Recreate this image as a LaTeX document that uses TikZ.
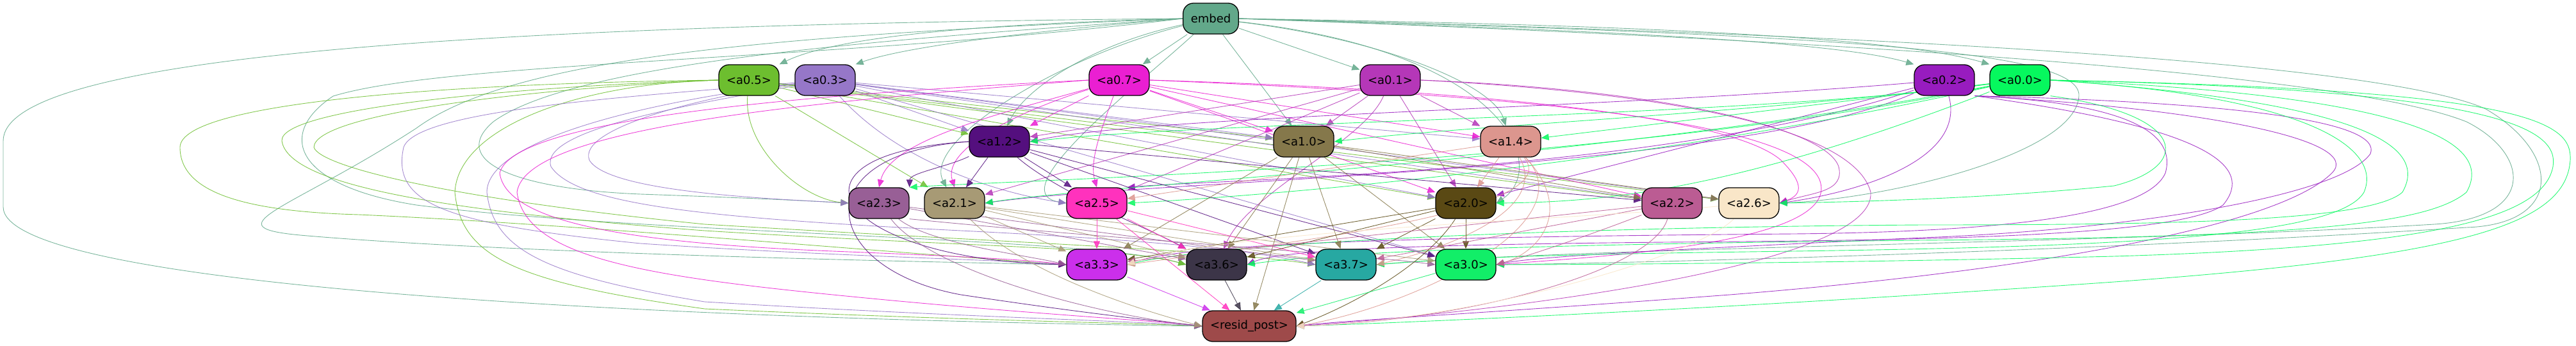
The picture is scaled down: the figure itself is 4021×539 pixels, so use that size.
\documentclass[tikz,border=0pt]{standalone}
\usepackage{fontspec}
\setmainfont{DejaVu Sans}
\usetikzlibrary{arrows.meta}
\pgfdeclarelayer{edges}
\pgfsetlayers{edges,main}
\definecolor{cE}{HTML}{62A88A}
\definecolor{c05}{HTML}{6DBE2F}
\definecolor{c03}{HTML}{9677C8}
\definecolor{c07}{HTML}{EA1FD2}
\definecolor{c01}{HTML}{B537B8}
\definecolor{c02}{HTML}{981CBF}
\definecolor{c00}{HTML}{06F85E}
\definecolor{c12}{HTML}{540F7E}
\definecolor{c10}{HTML}{85784B}
\definecolor{c14}{HTML}{DC968E}
\definecolor{c23}{HTML}{985F96}
\definecolor{c21}{HTML}{A79A75}
\definecolor{c25}{HTML}{FF32BD}
\definecolor{c20}{HTML}{5A4914}
\definecolor{c22}{HTML}{BB5C93}
\definecolor{c26}{HTML}{F9E6C8}
\definecolor{c33}{HTML}{CB2FEB}
\definecolor{c36}{HTML}{3C3548}
\definecolor{c37}{HTML}{27A8A2}
\definecolor{c30}{HTML}{12EE68}
\definecolor{crp}{HTML}{9E4A4A}
\tikzset{
  nd/.style={draw=black, line width=1.3pt, rounded corners=16pt, minimum height=48pt,
    minimum width=94pt, inner xsep=12pt, font=\fontsize{18}{20}\selectfont, text=black},
  ed/.style={draw=#1, line width=0.9pt, opacity=0.85, -{Triangle[length=12pt,width=10pt]}}
}
\begin{document}
\begin{tikzpicture}[x=1pt,y=-1pt]
\useasboundingbox (0,0) rectangle (4021,539);
% nodes
\node[nd, fill=cE, minimum width=0pt] (E) at (1890,29) {embed};
\node[nd, fill=c05] (n05) at (1169,125) {<a0.5>};
\node[nd, fill=c03] (n03) at (1288,125) {<a0.3>};
\node[nd, fill=c07] (n07) at (1747,125) {<a0.7>};
\node[nd, fill=c01] (n01) at (2170,125) {<a0.1>};
\node[nd, fill=c02] (n02) at (3035,125) {<a0.2>};
\node[nd, fill=c00] (n00) at (3153,125) {<a0.0>};
\node[nd, fill=c12] (n12) at (1560,221) {<a1.2>};
\node[nd, fill=c10] (n10) at (2035,221) {<a1.0>};
\node[nd, fill=c14] (n14) at (2358,221) {<a1.4>};
\node[nd, fill=c23] (n23) at (1372,317) {<a2.3>};
\node[nd, fill=c21] (n21) at (1490,317) {<a2.1>};
\node[nd, fill=c25] (n25) at (1712,317) {<a2.5>};
\node[nd, fill=c20] (n20) at (2288,317) {<a2.0>};
\node[nd, fill=c22] (n22) at (2610,317) {<a2.2>};
\node[nd, fill=c26] (n26) at (2730,317) {<a2.6>};
\node[nd, fill=c33] (n33) at (1712,413) {<a3.3>};
\node[nd, fill=c36] (n36) at (1899,413) {<a3.6>};
\node[nd, fill=c37] (n37) at (2101,413) {<a3.7>};
\node[nd, fill=c30] (n30) at (2288,413) {<a3.0>};
\node[nd, fill=crp, minimum width=0pt] (rp) at (1950,509) {<resid\_post>};
\begin{pgfonlayer}{edges}
% from embed
\draw[ed=cE] (E.west) .. controls (1500,38) and (1300,60) .. (n05.north east);
\draw[ed=cE] (E.west) .. controls (1650,45) and (1420,70) .. (n03.north east);
\draw[ed=cE] (E) -- (n07);
\draw[ed=cE] (E) -- (n01);
\draw[ed=cE] (E.east) .. controls (2400,45) and (2850,60) .. (n02.north west);
\draw[ed=cE] (E.east) .. controls (2500,38) and (2950,55) .. (n00.north west);
\draw[ed=cE] (E) .. controls (1700,70) and (1600,140) .. (n12);
\draw[ed=cE] (E) -- (n10);
\draw[ed=cE] (E) .. controls (2150,60) and (2330,130) .. (n14);
\draw[ed=cE] (E.west) .. controls (1400,60) and (900,95) .. (770,190) .. controls (700,250) and (800,295) .. (1000,303) .. controls (1200,310) and (1290,315) .. (n23.west);
\draw[ed=cE] (E) .. controls (1650,90) and (1440,220) .. (n21);
\draw[ed=cE] (E) .. controls (1780,130) and (1560,300) .. (n25.west);
\draw[ed=cE] (E) .. controls (2350,80) and (2420,260) .. (n20.east);
\draw[ed=cE] (E.east) .. controls (2900,55) and (3250,80) .. (3245,150) .. controls (3240,240) and (2950,310) .. (n26.east);
\draw[ed=cE] (E.west) .. controls (1200,55) and (800,90) .. (650,200) .. controls (450,330) and (320,355) .. (480,368) .. controls (800,395) and (1400,408) .. (n33.west);
\draw[ed=cE] (E.west) .. controls (1300,95) and (700,95) .. (520,150) .. controls (430,210) and (460,290) .. (650,320) .. controls (1000,365) and (1700,370) .. (n36.west);
\draw[ed=cE] (E.east) .. controls (2800,60) and (3650,110) .. (3850,190) .. controls (3950,240) and (3960,340) .. (3800,350) .. controls (3300,380) and (2500,385) .. (n37.east);
\draw[ed=cE] (E.east) .. controls (2800,50) and (3700,90) .. (3880,170) .. controls (4000,240) and (4000,350) .. (3850,355) .. controls (3300,390) and (2600,410) .. (n30.east);
\draw[ed=cE] (E.west) .. controls (600,40) and (5,100) .. (5,220) -- (5,323) .. controls (5,440) and (900,495) .. (rp.west);
% from a0.5
\draw[ed=c05] (n05) -- (n12);
\draw[ed=c05] (n05) -- (n10);
\draw[ed=c05] (n05) -- (n20);
\draw[ed=c05] (n05) -- (n22);
\draw[ed=c05] (n05) -- (n26);
\draw[ed=c05] (n05) -- (n21);
\draw[ed=c05] (n05) .. controls (1160,230) and (1250,310) .. (n23.west);
\draw[ed=c05] (n05.west) .. controls (700,130) and (281,160) .. (281,230) .. controls (281,300) and (380,330) .. (560,335) .. controls (900,350) and (1400,395) .. (n33.west);
\draw[ed=c05] (n05.west) .. controls (800,135) and (435,170) .. (440,220) .. controls (450,290) and (700,330) .. (1100,360) .. controls (1500,385) and (1750,385) .. (n36.west);
\draw[ed=c05] (n05.west) .. controls (800,140) and (490,180) .. (490,230) .. controls (500,260) and (700,310) .. (1100,350) .. controls (1600,380) and (1900,390) .. (n37.west);
\draw[ed=c05] (n05.west) .. controls (900,130) and (715,200) .. (710,300) .. controls (720,400) and (800,440) .. (1100,482) .. controls (1500,500) and (1800,505) .. (rp.west);
% from a0.3
\draw[ed=c03] (n03) -- (n12);
\draw[ed=c03] (n03) -- (n10);
\draw[ed=c03] (n03) -- (n14);
\draw[ed=c03] (n03) .. controls (1100,150) and (900,200) .. (920,250) .. controls (950,300) and (1200,310) .. (n23.west);
\draw[ed=c03] (n03) .. controls (1400,250) and (1550,300) .. (n25.west);
\draw[ed=c03] (n03) -- (n20);
\draw[ed=c03] (n03) -- (n22);
\draw[ed=c03] (n03) -- (n26);
\draw[ed=c03] (n03) -- (n30);
\draw[ed=c03] (n03) .. controls (1000,150) and (650,170) .. (630,230) .. controls (610,320) and (700,350) .. (1000,380) .. controls (1300,400) and (1550,405) .. (n33.west);
\draw[ed=c03] (n03) .. controls (1100,160) and (840,200) .. (860,260) .. controls (900,320) and (1100,340) .. (1500,360) .. controls (1800,375) and (1950,390) .. (n37.west);
\draw[ed=c03] (n03) .. controls (1000,160) and (760,220) .. (760,300) .. controls (770,390) and (850,430) .. (1100,471) .. controls (1500,495) and (1750,500) .. (rp.west);
% from a0.7
\draw[ed=c07] (n07) -- (n12);
\draw[ed=c07] (n07) -- (n10);
\draw[ed=c07] (n07) -- (n14);
\draw[ed=c07] (n07) .. controls (1550,180) and (1390,220) .. (n23.north);
\draw[ed=c07] (n07) .. controls (1600,170) and (1470,230) .. (n21.north);
\draw[ed=c07] (n07) .. controls (1720,200) and (1700,250) .. (n25.north);
\draw[ed=c07] (n07) -- (n20);
\draw[ed=c07] (n07) -- (n22);
\draw[ed=c07] (n07.east) .. controls (2300,140) and (2700,180) .. (2780,250) .. controls (2820,290) and (2810,305) .. (n26.east);
\draw[ed=c07] (n07.west) .. controls (1200,150) and (800,190) .. (780,270) .. controls (790,350) and (1000,380) .. (1300,392) .. controls (1500,400) and (1600,405) .. (n33.west);
\draw[ed=c07] (n07.west) .. controls (1250,160) and (820,200) .. (807,300) .. controls (820,400) and (1000,430) .. (1300,460) .. controls (1600,490) and (1800,500) .. (rp.west);
\draw[ed=c07] (n07.east) .. controls (2400,150) and (2800,190) .. (2840,280) .. controls (2880,380) and (2500,400) .. (n30.east);
% from a0.1
\draw[ed=c01] (n01) -- (n12);
\draw[ed=c01] (n01) -- (n10);
\draw[ed=c01] (n01) -- (n14);
\draw[ed=c01] (n01) -- (n21);
\draw[ed=c01] (n01) -- (n25);
\draw[ed=c01] (n01) -- (n20);
\draw[ed=c01] (n01.east) .. controls (2600,140) and (2850,200) .. (2870,260) .. controls (2880,300) and (2830,300) .. (n26.east);
\draw[ed=c01] (n01) .. controls (2130,220) and (1950,300) .. (n36);
\draw[ed=c01] (n01.east) .. controls (2700,150) and (2900,220) .. (2920,300) .. controls (2930,420) and (2300,490) .. (rp.east);
% from a0.2
\draw[ed=c02] (n02) .. controls (2500,170) and (1800,180) .. (n12.east);
\draw[ed=c02] (n02) .. controls (2700,270) and (1800,280) .. (n21.east);
\draw[ed=c02] (n02) .. controls (2600,270) and (1900,280) .. (n25.north east);
\draw[ed=c02] (n02) -- (n20);
\draw[ed=c02] (n02) .. controls (3070,250) and (2900,300) .. (n26.east);
\draw[ed=c02] (n02.south east) .. controls (3500,160) and (3720,190) .. (3700,240) .. controls (3650,310) and (3300,360) .. (3000,371) .. controls (2600,390) and (2400,400) .. (n30.east);
\draw[ed=c02] (n02.south east) .. controls (3450,170) and (3690,220) .. (3640,270) .. controls (3560,350) and (3200,420) .. (2700,460) .. controls (2300,490) and (2100,500) .. (rp.east);
\draw[ed=c02] (n02.south east) .. controls (3300,160) and (3400,200) .. (3380,270) .. controls (3350,340) and (3100,362) .. (2800,365) .. controls (2200,370) and (1850,380) .. (n33.east);
\draw[ed=c02] (n02.south east) .. controls (3450,200) and (3520,260) .. (3470,320) .. controls (3400,370) and (3000,375) .. (2600,378) .. controls (2200,382) and (2000,390) .. (n36.east);
% from a0.0
\draw[ed=c00] (n00) .. controls (2700,185) and (1900,188) .. (n12.east);
\draw[ed=c00] (n00) .. controls (2700,180) and (2300,195) .. (n10.east);
\draw[ed=c00] (n00) -- (n14);
\draw[ed=c00] (n00) .. controls (2500,260) and (1600,280) .. (n23.north east);
\draw[ed=c00] (n00) .. controls (2500,250) and (1700,290) .. (n21.east);
\draw[ed=c00] (n00) .. controls (2500,270) and (1900,310) .. (n25.east);
\draw[ed=c00] (n00) .. controls (2700,300) and (2500,315) .. (n20.east);
\draw[ed=c00] (n00.south east) .. controls (3420,180) and (3420,260) .. (3300,290) .. controls (3100,310) and (2900,315) .. (n26.east);
\draw[ed=c00] (n00.east) .. controls (3700,160) and (3790,230) .. (3750,300) .. controls (3700,345) and (3400,351) .. (3000,351) .. controls (2400,355) and (1900,380) .. (n33.east);
\draw[ed=c00] (n00.east) .. controls (3800,150) and (3890,230) .. (3850,300) .. controls (3790,350) and (3600,370) .. (3000,375) .. controls (2500,380) and (2100,390) .. (n36.east);
\draw[ed=c00] (n00.east) .. controls (3600,150) and (3720,230) .. (3690,300) .. controls (3650,370) and (3300,385) .. (2800,392) .. controls (2500,396) and (2300,400) .. (n37.east);
\draw[ed=c00] (n00.east) .. controls (3900,140) and (3995,200) .. (3985,260) .. controls (3970,340) and (3800,385) .. (3300,400) .. controls (2900,410) and (2500,413) .. (n30.east);
\draw[ed=c00] (n00.east) .. controls (3950,140) and (4015,190) .. (4012,250) .. controls (4005,350) and (3850,400) .. (3300,440) .. controls (2800,475) and (2300,500) .. (rp.east);
% from a1.2
\draw[ed=c12] (n12) .. controls (1480,260) and (1420,270) .. (n23.north east);
\draw[ed=c12] (n12) -- (n21);
\draw[ed=c12] (n12) -- (n25);
\draw[ed=c12] (n12) -- (n22);
\draw[ed=c12] (n12) -- (n30);
\draw[ed=c12] (n12) -- (n37);
\draw[ed=c12] (n12.west) .. controls (1200,240) and (1300,405) .. (n33.west);
\draw[ed=c12] (n12) .. controls (1650,300) and (1800,360) .. (n36.north west);
\draw[ed=c12] (n12.west) .. controls (1250,240) and (1280,420) .. (1500,460) .. controls (1700,490) and (1800,500) .. (rp.west);
% from a1.0
\draw[ed=c10] (n10) -- (n22);
\draw[ed=c10] (n10) -- (n26);
\draw[ed=c10] (n10) -- (n33);
\draw[ed=c10] (n10) -- (n36);
\draw[ed=c10] (n10) -- (n37);
\draw[ed=c10] (n10) -- (n30);
\draw[ed=c10] (n10) -- (rp);
% from a1.4
\draw[ed=c14] (n14) -- (n25);
\draw[ed=c14] (n14) -- (n20);
\draw[ed=c14] (n14) .. controls (2450,330) and (2000,380) .. (n33.east);
\draw[ed=c14] (n14) .. controls (2420,330) and (2250,390) .. (n37.east);
\draw[ed=c14] (n14) .. controls (2460,330) and (2400,395) .. (n30.east);
\draw[ed=c14] (n14) .. controls (2480,350) and (2200,480) .. (rp.east);
% from a2.3
\draw[ed=c23] (n23) .. controls (1450,380) and (1600,398) .. (n33.west);
\draw[ed=c23] (n23) -- (n37);
\draw[ed=c23] (n23) -- (n36);
\draw[ed=c23] (n23.south east) .. controls (1700,370) and (2100,395) .. (n30.west);
\draw[ed=c23] (n23) .. controls (1450,420) and (1700,490) .. (rp.west);
% from a2.1
\draw[ed=c21] (n21) -- (n33);
\draw[ed=c21] (n21) -- (n36);
\draw[ed=c21] (n21) -- (n37);
\draw[ed=c21] (n21) -- (n30);
\draw[ed=c21] (n21) .. controls (1600,430) and (1800,490) .. (rp.west);
% from a2.5
\draw[ed=c25] (n25) -- (n33);
\draw[ed=c25] (n25) -- (n36);
\draw[ed=c25] (n25) -- (n37);
\draw[ed=c25] (n25) -- (rp);
% from a2.0
\draw[ed=c20] (n20) -- (n30);
\draw[ed=c20] (n20) -- (n37);
\draw[ed=c20] (n20) -- (n36);
\draw[ed=c20] (n20) -- (n33);
\draw[ed=c20] (n20) .. controls (2220,420) and (2100,480) .. (rp.east);
% from a2.2
\draw[ed=c22] (n22) .. controls (2500,360) and (2400,395) .. (n30.east);
\draw[ed=c22] (n22) -- (n37);
\draw[ed=c22] (n22) -- (n33);
\draw[ed=c22] (n22) .. controls (2580,420) and (2300,500) .. (rp.east);
% from a2.6
\draw[ed=c26] (n26) .. controls (2650,400) and (2300,500) .. (rp.east);
\draw[ed=c26] (n26) .. controls (2500,340) and (1900,360) .. (n33.east);
% row 4 to resid_post
\draw[ed=c33] (n33) -- (rp);
\draw[ed=c36] (n36) -- (rp);
\draw[ed=c37] (n37) -- (rp);
\draw[ed=c30] (n30) -- (rp);
\end{pgfonlayer}
\end{tikzpicture}
\end{document}
